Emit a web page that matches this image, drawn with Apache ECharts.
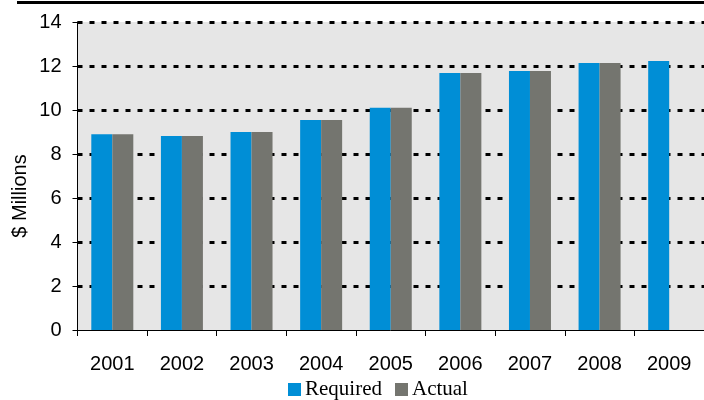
<!DOCTYPE html>
<html>
<head>
<meta charset="utf-8">
<script src="https://cdn.jsdelivr.net/npm/echarts@6/dist/echarts.min.js"></script>
<style>
  html, body { margin: 0; padding: 0; background: #ffffff; }
  #chart { width: 704px; height: 400px; }
</style>
</head>
<body>
<div id="chart"></div>
<script>
// Funding, in $ millions, by year
const years = ['2001', '2002', '2003', '2004', '2005', '2006', '2007', '2008', '2009'];
const required = [8.9, 8.82, 9.0, 9.55, 10.1, 11.68, 11.77, 12.14, 12.23];
const actual = [8.9, 8.82, 9.0, 9.55, 10.1, 11.68, 11.77, 12.14, null];
const yTicks = [0, 2, 4, 6, 8, 10, 12, 14];

const sans = '"Liberation Sans", Arial, sans-serif';
const serif = '"Liberation Serif", "Times New Roman", serif';

const chart = echarts.init(document.getElementById('chart'), null, { renderer: 'canvas' });

chart.setOption({
  animation: false,
  backgroundColor: '#ffffff',
  grid: {
    left: 77.5,
    right: -6.6,
    top: 22,
    bottom: 70,
    show: true,
    backgroundColor: '#e6e6e6',
    borderWidth: 0
  },
  graphic: [
    {
      type: 'rect',
      shape: { x: 17, y: 1, width: 687, height: 3 },
      style: { fill: '#000000' },
      silent: true
    },
    {
      type: 'text',
      x: 20,
      y: 196,
      rotation: Math.PI / 2,
      style: {
        text: '$ Millions',
        font: '20px ' + sans,
        fill: '#000000',
        align: 'center',
        verticalAlign: 'middle'
      },
      silent: true
    }
  ],
  legend: {
    left: 288,
    top: 379,
    itemWidth: 13,
    itemHeight: 13,
    itemGap: 13,
    icon: 'rect',
    padding: 0,
    textStyle: { fontFamily: serif, fontSize: 21, color: '#000000', padding: [0, 0, 0, -1] },
    data: ['Required', 'Actual']
  },
  xAxis: {
    type: 'category',
    data: years,
    boundaryGap: true,
    axisLine: { show: true, lineStyle: { color: '#000000', width: 1 } },
    axisTick: { show: true, length: 6, lineStyle: { color: '#000000' } },
    axisLabel: { color: '#000000', fontFamily: sans, fontSize: 20, margin: 24 },
    splitLine: { show: false }
  },
  yAxis: {
    type: 'value',
    min: yTicks[0],
    max: yTicks[yTicks.length - 1],
    interval: 2,
    axisLine: { show: true, lineStyle: { color: '#000000', width: 1 } },
    axisTick: { show: true, length: 5, lineStyle: { color: '#000000' } },
    axisLabel: { color: '#000000', fontFamily: sans, fontSize: 20, margin: 16 },
    splitLine: {
      show: true,
      showMinLine: false,
      lineStyle: { color: '#000000', width: 3, type: [5, 7], cap: 'butt' }
    }
  },
  series: [
    {
      name: 'Required',
      type: 'bar',
      data: required,
      barWidth: 21,
      barGap: '0%',
      itemStyle: { color: '#008ed6' }
    },
    {
      name: 'Actual',
      type: 'bar',
      data: actual,
      barWidth: 21,
      barGap: '0%',
      itemStyle: { color: '#74756f' }
    }
  ]
});
</script>
</body>
</html>
